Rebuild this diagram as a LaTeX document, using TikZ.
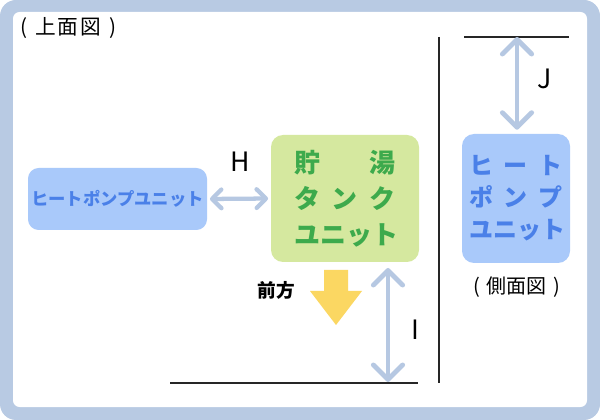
\documentclass[tikz,border=0pt]{standalone}
\usepackage{fontspec}
\setmainfont{Noto Sans CJK JP}
\usetikzlibrary{arrows.meta}
\definecolor{framec}{HTML}{B8CAE3}
\definecolor{hpfill}{HTML}{A9C9FA}
\definecolor{hptext}{HTML}{4A80E8}
\definecolor{tankfill}{HTML}{D5E89F}
\definecolor{tanktext}{HTML}{3DAA4C}
\definecolor{arrowc}{HTML}{B6C8E2}
\definecolor{fwdc}{HTML}{FBD762}
\tikzset{
  dimv/.style={draw=arrowc, line width=3.6pt, {Straight Barb[length=11pt,width=22pt,line cap=round,line join=round]}-{Straight Barb[length=11pt,width=22pt,line cap=round,line join=round]}},
  dimh/.style={draw=arrowc, line width=3.2pt, {Straight Barb[length=7pt,width=14pt,line cap=round,line join=round]}-{Straight Barb[length=7pt,width=14pt,line cap=round,line join=round]}},
  unitbox/.style={rounded corners=8pt, inner sep=0pt, align=center},
  thinline/.style={draw=black!85, line width=0.9pt},
  lbl/.style={inner sep=0pt, font=\fontsize{20}{22}\selectfont}
}
\begin{document}
\begin{tikzpicture}[x=0.75pt,y=-0.75pt]
\useasboundingbox (0,0) rectangle (600,420);
\fill[framec, rounded corners=12pt] (0,0) rectangle (600,420);
\fill[white, rounded corners=5pt] (13,12) rectangle (587,407);

\node[anchor=west, inner sep=0pt, font=\fontsize{15.5}{18}\selectfont] (top) at (20,28) {(\hspace{6pt}上\hspace{1.5pt}面\hspace{1.5pt}図\hspace{6pt})};

\node[unitbox, fill=hpfill, text=hptext, minimum width=134.25pt, minimum height=46.5pt,
  font=\bfseries\fontsize{13}{14}\selectfont] (hp) at (117.5,199) {ヒートポンプユニット};

\node[unitbox, fill=tankfill, text=tanktext, minimum width=111pt, minimum height=95.25pt,
  font=\bfseries\fontsize{19.5}{27}\selectfont, rounded corners=9pt] (tank) at (345,198.5)
  {\makebox[76pt][s]{貯\hfill 湯}\\ \makebox[76pt][s]{タ\hfill ン\hfill ク}\\ \makebox[76pt][s]{ユニット}};

\node[unitbox, fill=hpfill, text=hptext, minimum width=81pt, minimum height=96.75pt,
  font=\bfseries\fontsize{18}{24}\selectfont, rounded corners=9pt] (side) at (516,198.5)
  {\makebox[70pt][s]{ヒ\hfill ー\hfill ト}\\ \makebox[70pt][s]{ポ\hfill ン\hfill プ}\\ \makebox[70pt][s]{ユニット}};

\node[inner sep=0pt, font=\fontsize{15}{18}\selectfont] (sidelbl) at (517,287) {(\hspace{5pt}側面図\hspace{5pt})};

% H
\draw[dimh, shorten <=2pt, shorten >=2pt] (hp.east) -- (tank.west);
\node[lbl] (hl) at (240,162) {H};

% forward arrow
\fill[fwdc, line join=round] (324,270) -- (348,270) -- (348,291) -- (362,291) -- (336,325) -- (310,291) -- (324,291) -- cycle;
\node[inner sep=0pt, font=\bfseries\fontsize{14}{16}\selectfont] (fwd) at (276,290) {前方};

% I
\coordinate (bl) at (170,383);
\coordinate (br) at (418,383);
\coordinate (itop) at (388,268);
\coordinate (ibot) at (388,382);
\draw[thinline] (bl) -- (br);
\draw[dimv] (itop) -- (ibot);
\node[lbl] (il) at (415,330) {I};

% divider
\coordinate (dtop) at (439,37);
\coordinate (dbot) at (439,383);
\draw[thinline] (dtop) -- (dbot);

% J
\coordinate (jl) at (464,37);
\coordinate (jr) at (569,37);
\coordinate (jtop) at (517,37);
\draw[thinline] (jl) -- (jr);
\draw[dimv, shorten >=3pt] (jtop) -- (side.north -| jtop);
\node[lbl] (jlbl) at (545,79) {J};
\end{tikzpicture}
\end{document}
